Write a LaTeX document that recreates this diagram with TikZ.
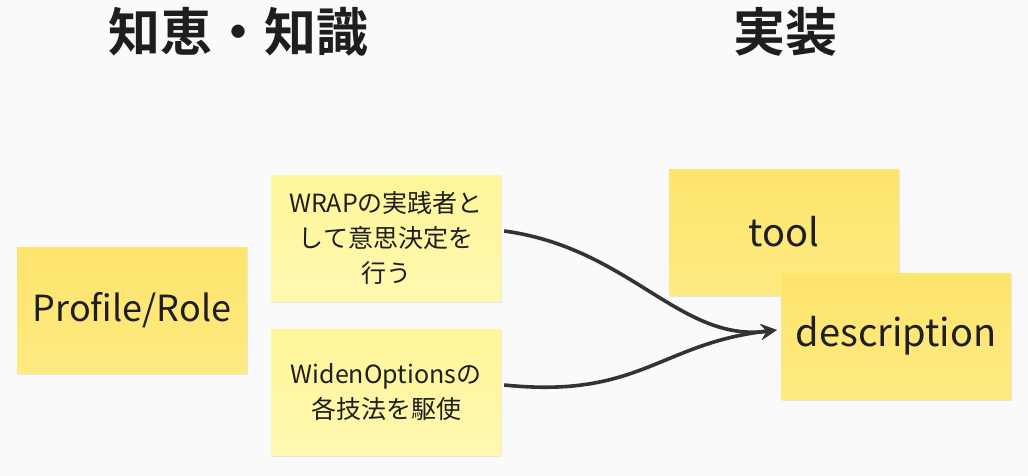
\documentclass[tikz,border=0pt]{standalone}
\usepackage{fontspec}
\setmainfont{Noto Sans CJK JP}
\newfontfamily\headfont{Noto Sans CJK JP Bold}
\usetikzlibrary{arrows.meta,shadows,fadings}
\definecolor{bg}{HTML}{FAFAFA}
\definecolor{darkY}{HTML}{FDE46C}
\definecolor{darkYb}{HTML}{FEEA82}
\definecolor{lightY}{HTML}{FFF599}
\definecolor{lightYb}{HTML}{FFF8B0}
\definecolor{ink}{HTML}{1E1E1E}
\definecolor{arrowc}{HTML}{333333}
\tikzset{
  note/.style={inner sep=0pt, align=center, text=ink,
    general shadow={fill=black, opacity=0.08, shadow xshift=1pt, shadow yshift=-2pt}},
  bignote/.style={note, minimum width=230pt, minimum height=126pt,
    top color=darkY, bottom color=darkYb, font=\fontsize{36}{40}\selectfont},
  implnote/.style={bignote, font=\fontsize{38}{42}\selectfont},
  smallnote/.style={note, minimum width=230pt, minimum height=126pt,
    top color=lightY, bottom color=lightYb, font=\fontsize{25}{35}\selectfont},
  heading/.style={text=ink, font=\headfont\fontsize{52}{56}\selectfont, inner sep=0pt},
  link/.style={draw=arrowc, line width=3.6pt, -{Stealth[length=16pt,width=16pt,inset=6pt]}}
}
\begin{document}
\begin{tikzpicture}[x=1pt,y=-1pt]
\fill[bg] (0,0) rectangle (1028,476);
\useasboundingbox (0,0) rectangle (1028,476);
\node[heading] (h1) at (238,32) {知恵・知識};
\node[heading] (h2) at (785,32) {実装};
\node[bignote] (pr) at (132,310) {Profile/Role};
\node[smallnote] (wr) at (386,238) {WRAPの実践者と\\して意思決定を\\行う};
\node[smallnote] (wo) at (386,392) {WidenOptionsの\\各技法を駆使};
\node[implnote] (tl) at (784,232) {tool};
\node[implnote] (ds) at (896,336) {description};
\coordinate (tip) at ([xshift=-4pt,yshift=6pt]ds.west);
\draw[link] ([xshift=3pt,yshift=7pt]wr.east) .. controls (630,248) and (680,343) .. (tip);
\draw[link] ([xshift=3pt,yshift=7pt]wo.east) .. controls (640,399) and (660,343) .. (tip);
\end{tikzpicture}
\end{document}
